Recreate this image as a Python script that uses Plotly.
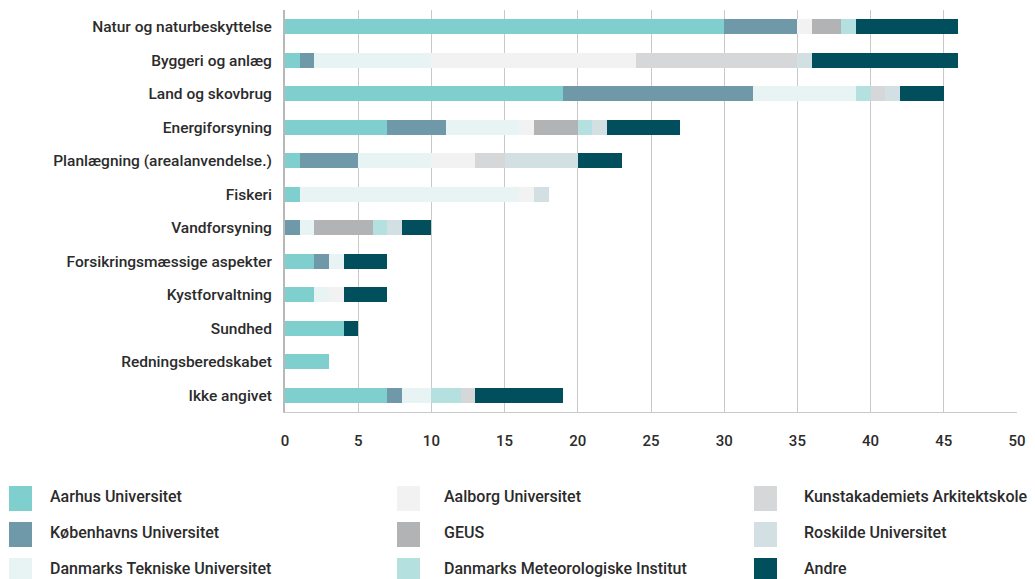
import plotly.graph_objects as go

categories = [
    "Natur og naturbeskyttelse",
    "Byggeri og anlæg",
    "Land og skovbrug",
    "Energiforsyning",
    "Planlægning (arealanvendelse.)",
    "Fiskeri",
    "Vandforsyning",
    "Forsikringsmæssige aspekter",
    "Kystforvaltning",
    "Sundhed",
    "Redningsberedskabet",
    "Ikke angivet",
]

series_names = [
    "Aarhus Universitet",
    "Københavns Universitet",
    "Danmarks Tekniske Universitet",
    "Aalborg Universitet",
    "GEUS",
    "Danmarks Meteorologiske Institut",
    "Kunstakademiets Arkitektskole",
    "Roskilde Universitet",
    "Andre",
]

series_colors = [
    "#80cfcf",
    "#6f99a8",
    "#e8f4f4",
    "#f2f2f2",
    "#b2b3b5",
    "#b5e0e0",
    "#d6d7d9",
    "#d2e0e4",
    "#014f5c",
]

aarhus = [30, 1, 19, 7, 1, 1, 0, 2, 2, 4, 3, 7]
koebenhavn = [5, 1, 13, 4, 4, 0, 1, 1, 0, 0, 0, 1]
dtu = [0, 8, 7, 5, 5, 15, 1, 1, 1, 0, 0, 2]
aalborg = [1, 14, 0, 1, 3, 1, 0, 0, 1, 0, 0, 0]
geus = [2, 0, 0, 3, 0, 0, 4, 0, 0, 0, 0, 0]
dmi = [1, 0, 1, 1, 0, 0, 1, 0, 0, 0, 0, 2]
kunstakademi = [0, 11, 1, 0, 2, 0, 0, 0, 0, 0, 0, 1]
roskilde = [0, 1, 1, 1, 5, 1, 1, 0, 0, 0, 0, 0]
andre = [7, 10, 3, 5, 3, 0, 2, 3, 3, 1, 0, 6]

series_values = [aarhus, koebenhavn, dtu, aalborg, geus, dmi, kunstakademi, roskilde, andre]

x_ticks = [0, 5, 10, 15, 20, 25, 30, 35, 40, 45, 50]

FONT = "Roboto"
TEXT_COLOR = "#2b2b2b"

fig = go.Figure()
for name, color, vals in zip(series_names, series_colors, series_values):
    fig.add_trace(go.Bar(
        y=categories, x=vals, name=name, orientation="h",
        marker=dict(color=color, line=dict(width=0)),
        showlegend=False,
    ))

W, H = 1035, 579
ML, MR, MT, MB = 285, 18, 10, 167
PW, PH = W - ML - MR, H - MT - MB

def px_x(px):
    return (px - ML) / PW

def px_y(py):
    return (H - MB - py) / PH

# Manual legend (column-major, 3 per column)
col_swatch_x = [9, 397, 754]
col_text_x = [50, 444, 804]
row_top = [486, 522, 558]
shapes = []
annotations = []
for i, (name, color) in enumerate(zip(series_names, series_colors)):
    c, r = i // 3, i % 3
    x0 = col_swatch_x[c]
    y0 = row_top[r]
    shapes.append(dict(
        type="rect", xref="paper", yref="paper",
        x0=px_x(x0), x1=px_x(x0 + 23), y0=px_y(y0), y1=px_y(y0 + 25),
        fillcolor=color, line=dict(width=0), layer="above",
    ))
    annotations.append(dict(
        xref="paper", yref="paper", x=px_x(col_text_x[c] - 2), y=px_y(y0 + 10),
        text=name, showarrow=False, xanchor="left", yanchor="middle",
        font=dict(family=FONT, size=16, color=TEXT_COLOR, weight=500),
    ))

fig.update_layout(
    barmode="stack",
    bargap=0.55,
    width=W, height=H,
    margin=dict(l=ML, r=MR, t=MT, b=MB, pad=0),
    plot_bgcolor="white",
    paper_bgcolor="white",
    font=dict(family=FONT, size=15, color=TEXT_COLOR),
    shapes=shapes,
    annotations=annotations,
)
fig.update_xaxes(
    range=[0, 50],
    tickvals=x_ticks,
    ticktext=[str(t) for t in x_ticks],
    showgrid=True, gridcolor="#c9c9c9", gridwidth=1,
    zeroline=False,
    showline=True, linecolor="#c9c9c9", linewidth=1, mirror=False,
    ticks="", ticklabelstandoff=15,
    tickfont=dict(family=FONT, size=15, color=TEXT_COLOR, weight=500),
    fixedrange=True,
)
fig.update_yaxes(
    autorange="reversed",
    showgrid=False,
    showline=True, linecolor="#b8b8b8", linewidth=2,
    ticks="", ticklabelstandoff=8,
    tickfont=dict(family=FONT, size=15.5, color=TEXT_COLOR, weight=500),
    fixedrange=True,
)

fig.write_html(
    "out.html",
    config={"displayModeBar": False},
    post_script="document.body.style.margin='0px';",
)
